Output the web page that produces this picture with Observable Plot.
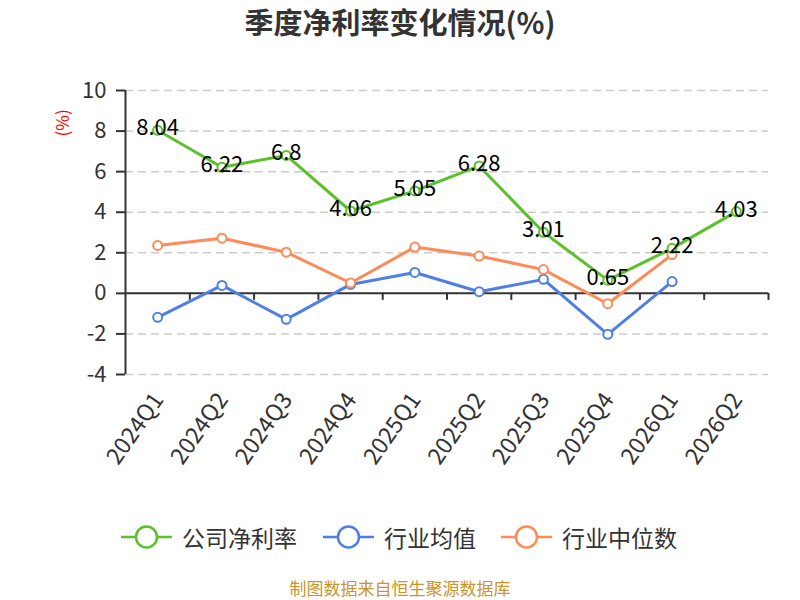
<!DOCTYPE html>
<html>
<head>
<meta charset="utf-8">
<script src="https://cdn.jsdelivr.net/npm/d3@7"></script>
<script src="https://cdn.jsdelivr.net/npm/@observablehq/plot@0.6"></script>
<style>
  body { margin: 0; width: 800px; height: 600px; position: relative; background: #fff; font-family: "Noto Sans CJK SC", "Noto Sans", sans-serif; overflow: hidden; }
  #title { position: absolute; left: 0; top: 0; width: 800px; height: 45px; line-height: 42px; text-align: center; font-size: 29px; font-weight: bold; color: #333; }
  #chart { position: absolute; left: 0; top: 45px; }
  #legend { position: absolute; left: 0; top: 520px; width: 800px; height: 34px; }
  .item { position: absolute; top: 0; height: 34px; display: flex; align-items: center; font-size: 23px; color: #333; }
  .item svg { margin-right: 10px; }
  #caption { position: absolute; left: 0; top: 576px; width: 800px; text-align: center; font-size: 17px; color: #c9952d; line-height: 24px; }
</style>
</head>
<body>
<div id="title">季度净利率变化情况(%)</div>
<div id="chart"></div>
<div id="legend"></div>
<div id="caption">制图数据来自恒生聚源数据库</div>
<script>
const quarters = ["2024Q1","2024Q2","2024Q3","2024Q4","2025Q1","2025Q2","2025Q3","2025Q4","2026Q1","2026Q2"];
const companyNet = [8.04, 6.22, 6.8, 4.06, 5.05, 6.28, 3.01, 0.65, 2.22, 4.03];
const industryAvg = [-1.18, 0.39, -1.28, 0.44, 1.03, 0.08, 0.69, -2.02, 0.58, null];
const industryMedian = [2.36, 2.72, 2.03, 0.51, 2.28, 1.84, 1.17, -0.51, 1.91, null];
const yTicks = [-4, -2, 0, 2, 4, 6, 8, 10];
const seriesNames = ["公司净利率", "行业均值", "行业中位数"];
const seriesColors = ["#5ac229", "#4f7fe6", "#fe8b56"];

const toRows = (vals) => vals.map((v, i) => ({i, q: quarters[i], v})).filter(d => d.v != null);
const rowsC = toRows(companyNet);
const rowsA = toRows(industryAvg);
const rowsM = toRows(industryMedian);
const idx = quarters.map((q, i) => ({i, q}));
const bounds = d3.range(quarters.length + 1).map(i => i - 0.5);

const seriesMarks = (rows, color) => [
  Plot.line(rows, {x: "i", y: "v", stroke: color, strokeWidth: 3}),
  Plot.dot(rows, {x: "i", y: "v", r: 4.5, fill: "#fff", stroke: color, strokeWidth: 2})
];

const chart = Plot.plot({
  width: 800,
  height: 450,
  marginTop: 45,
  marginBottom: 121,
  marginLeft: 125,
  marginRight: 32,
  style: {fontFamily: "'Noto Sans CJK SC', 'Noto Sans', sans-serif", background: "#fff"},
  x: {type: "linear", domain: [-0.5, quarters.length - 0.5], axis: null},
  y: {type: "linear", domain: [-4, 10], axis: null},
  marks: [
    Plot.ruleY(yTicks.filter(t => t !== 0), {x1: -0.5, x2: quarters.length - 0.5, stroke: "#cccccc", strokeWidth: 1.5, strokeDasharray: "8,5"}),
    Plot.axisY({ticks: yTicks, label: null, tickSize: 9, tickPadding: 10, fontSize: 22, color: "#333", tickFormat: d => String(d), strokeWidth: 2}),
    Plot.ruleX([-0.5], {y1: -4, y2: 10, stroke: "#333", strokeWidth: 2}),
    Plot.ruleY([0], {x1: -0.5, x2: quarters.length - 0.5, stroke: "#333", strokeWidth: 2}),
    Plot.ruleX(bounds.slice(1), {x: d => d, y1: 0, y2: 0, insetTop: 0, insetBottom: -7, stroke: "#333", strokeWidth: 2}),
    Plot.text(idx, {x: "i", text: "q", frameAnchor: "bottom", dy: 21, dx: 1, rotate: -55, textAnchor: "end", lineAnchor: "middle", fontSize: 23, fill: "#333"}),
    Plot.text(["(%)"], {frameAnchor: "top-left", dx: -69, dy: 46, rotate: -90, fill: "#ff0000", fontSize: 17}),
    ...seriesMarks(rowsA, seriesColors[1]),
    ...seriesMarks(rowsM, seriesColors[2]),
    ...seriesMarks(rowsC, seriesColors[0]),
    Plot.text(rowsC, {x: "i", y: "v", text: d => String(d.v), dy: -2, fontSize: 22, fill: "#000", lineAnchor: "middle"})
  ]
});
document.getElementById("chart").appendChild(chart);

const legendLefts = [121, 323, 501];
const legend = document.getElementById("legend");
seriesNames.forEach((name, k) => {
  const item = document.createElement("div");
  item.className = "item";
  item.style.left = legendLefts[k] + "px";
  const c = seriesColors[k];
  item.innerHTML = `<svg width="51" height="34"><line x1="0" y1="17" x2="51" y2="17" stroke="${c}" stroke-width="2.5"/><circle cx="25.5" cy="17" r="10.5" fill="#fff" stroke="${c}" stroke-width="2.5"/></svg><span>${name}</span>`;
  legend.appendChild(item);
});
</script>
</body>
</html>
